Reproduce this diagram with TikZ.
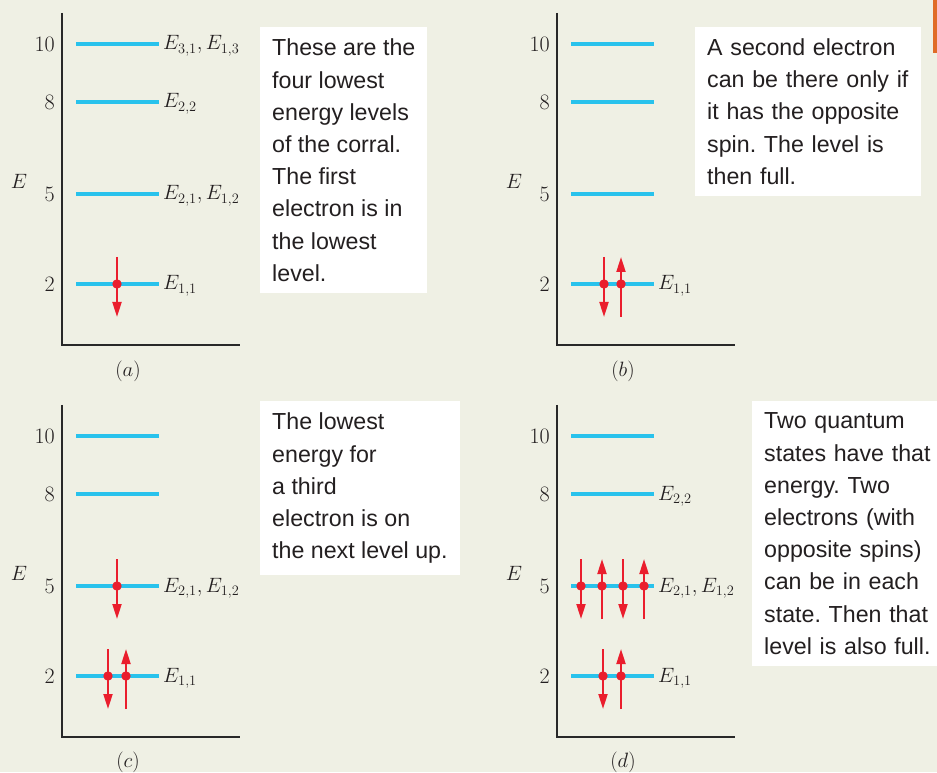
\documentclass[tikz,border=0pt]{standalone}
\usepackage{fontspec}
\newfontfamily\notefont{Liberation Sans}
\usetikzlibrary{arrows.meta}
\definecolor{paper}{RGB}{239,240,228}
\definecolor{levelblue}{RGB}{40,194,236}
\definecolor{spinred}{RGB}{234,30,45}
\definecolor{ink}{RGB}{35,31,32}
\definecolor{axisgray}{RGB}{40,40,40}
\definecolor{taborange}{RGB}{224,108,40}
\tikzset{
  energylevel/.style={draw=levelblue, line width=4pt},
  axisline/.style={draw=axisgray, line width=1.6pt},
  spin/.style={draw=spinred, line width=2pt, -{Triangle[length=15pt, width=9pt]}},
  electron/.style={circle, fill=spinred, inner sep=0pt, minimum size=9.4pt},
  ticklbl/.style={anchor=east, inner sep=0pt, text=ink, font=\fontsize{22}{22}\selectfont},
  statelbl/.style={anchor=base west, inner sep=0pt, text=ink, font=\fontsize{20.74}{21}\selectfont},
  axislbl/.style={inner sep=0pt, text=ink, font=\fontsize{20.74}{21}\selectfont},
  % white note boxes, sans text
  notebox/.style={
    anchor=north west,
    fill=white,
    align=left,
    text=ink,
    font=\notefont\fontsize{23.2}{32.2}\selectfont,
    execute at begin node=\frenchspacing,
    inner xsep=12pt,
    inner ysep=11.8pt,
  },
}

\begin{document}
\begin{tikzpicture}[x=1pt, y=1pt]
  \fill[paper] (0,0) rectangle (937,772);
  \useasboundingbox (0,0) rectangle (937,772);
  \fill[taborange] (933,719) rectangle (937,772);

  % --- (a) ---
  \begin{scope}[shift={(62,427)}]
    \draw[axisline] (0,332) -- (0,0) -- (178,0);
    \foreach \lv/\h in {10/301, 8/243, 5/151, 2/61} {
      \draw[energylevel] (14,\h) -- (97,\h);
      \node[ticklbl] (a\lv) at (-7,\h) {\lv};
    }
    \node[axislbl] (aE) at (-43,164) {$E$};
    \node[axislbl] (acap) at (66,-26) {$(a)$};
    \node[statelbl] (aS10) at (101,295) {$E_{3,1}, E_{1,3}$};
    \node[statelbl] (aS8) at (101,237) {$E_{2,2}$};
    \node[statelbl] (aS5) at (101,145) {$E_{2,1}, E_{1,2}$};
    \node[statelbl] (aS2) at (101,55) {$E_{1,1}$};
    \node[electron] (ae1) at (55,61) {};
    \draw[spin] ([yshift=27pt]ae1.center) -- ([yshift=-33pt]ae1.center);
  \end{scope}

  % --- (b) ---
  \begin{scope}[shift={(557,427)}]
    \draw[axisline] (0,332) -- (0,0) -- (178,0);
    \foreach \lv/\h in {10/301, 8/243, 5/151, 2/61} {
      \draw[energylevel] (14,\h) -- (97,\h);
      \node[ticklbl] (b\lv) at (-7,\h) {\lv};
    }
    \node[axislbl] (bE) at (-43,164) {$E$};
    \node[axislbl] (bcap) at (66,-26) {$(b)$};
    \node[statelbl] (bS2) at (101,55) {$E_{1,1}$};
    \node[electron] (be1) at (47,61) {};
    \node[electron] (be2) at (64,61) {};
    \draw[spin] ([yshift=27pt]be1.center) -- ([yshift=-33pt]be1.center);
    \draw[spin] ([yshift=-33pt]be2.center) -- ([yshift=27pt]be2.center);
  \end{scope}

  % --- (c) ---
  \begin{scope}[shift={(62,35)}]
    \draw[axisline] (0,332) -- (0,0) -- (178,0);
    \foreach \lv/\h in {10/301, 8/243, 5/151, 2/61} {
      \draw[energylevel] (14,\h) -- (97,\h);
      \node[ticklbl] (c\lv) at (-7,\h) {\lv};
    }
    \node[axislbl] (cE) at (-43,164) {$E$};
    \node[axislbl] (ccap) at (66,-25) {$(c)$};
    \node[statelbl] (cS5) at (101,145) {$E_{2,1}, E_{1,2}$};
    \node[statelbl] (cS2) at (101,55) {$E_{1,1}$};
    \node[electron] (ce1) at (46,61) {};
    \node[electron] (ce2) at (64,61) {};
    \node[electron] (ce3) at (55,151) {};
    \draw[spin] ([yshift=27pt]ce1.center) -- ([yshift=-33pt]ce1.center);
    \draw[spin] ([yshift=-33pt]ce2.center) -- ([yshift=27pt]ce2.center);
    \draw[spin] ([yshift=27pt]ce3.center) -- ([yshift=-33pt]ce3.center);
  \end{scope}

  % --- (d) ---
  \begin{scope}[shift={(557,35)}]
    \draw[axisline] (0,332) -- (0,0) -- (178,0);
    \foreach \lv/\h in {10/301, 8/243, 5/151, 2/61} {
      \draw[energylevel] (14,\h) -- (97,\h);
      \node[ticklbl] (d\lv) at (-7,\h) {\lv};
    }
    \node[axislbl] (dE) at (-43,164) {$E$};
    \node[axislbl] (dcap) at (66,-25) {$(d)$};
    \node[statelbl] (dS8) at (101,237) {$E_{2,2}$};
    \node[statelbl] (dS5) at (101,145) {$E_{2,1}, E_{1,2}$};
    \node[statelbl] (dS2) at (101,55) {$E_{1,1}$};
    \node[electron] (de1) at (46,61) {};
    \node[electron] (de2) at (64,61) {};
    \node[electron] (de3) at (24,151) {};
    \node[electron] (de4) at (45,151) {};
    \node[electron] (de5) at (66,151) {};
    \node[electron] (de6) at (87,151) {};
    \draw[spin] ([yshift=27pt]de1.center) -- ([yshift=-33pt]de1.center);
    \draw[spin] ([yshift=-33pt]de2.center) -- ([yshift=27pt]de2.center);
    \draw[spin] ([yshift=27pt]de3.center) -- ([yshift=-33pt]de3.center);
    \draw[spin] ([yshift=-33pt]de4.center) -- ([yshift=27pt]de4.center);
    \draw[spin] ([yshift=27pt]de5.center) -- ([yshift=-33pt]de5.center);
    \draw[spin] ([yshift=-33pt]de6.center) -- ([yshift=27pt]de6.center);
  \end{scope}

  % --- notes ---
  \node[notebox] (noteA) at (260,745)
    {These are the\\four lowest\\energy levels\\of the corral.\\The first\\electron is in\\the lowest\\level.};
  \node[notebox, text width=202pt] (noteB) at (695,745.3)
    {A second electron\\can be there only if\\it has the opposite\\spin. The level is\\then full.};
  \node[notebox] (noteC) at (260,371)
    {The lowest\\energy for\\a third\\electron is on\\the next level up.};
  \node[notebox, text width=180pt] (noteD) at (752,371)
    {Two quantum\\states have that\\energy. Two\\electrons (with\\opposite spins)\\can be in each\\state. Then that\\level is also full.};
\end{tikzpicture}
\end{document}
